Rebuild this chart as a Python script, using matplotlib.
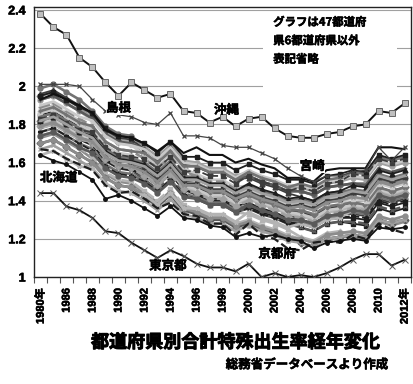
import matplotlib
matplotlib.use("Agg")
import matplotlib.pyplot as plt
import matplotlib.patheffects as pe
from matplotlib.patches import Rectangle

plt.rcParams['font.family'] = ['Noto Sans CJK JP', 'DejaVu Sans']
plt.rcParams['font.weight'] = 'bold'

years = ['1980年', '1985', '1986', '1987', '1988', '1989', '1990', '1991', '1992', '1993',
         '1994', '1995', '1996', '1997', '1998', '1999', '2000', '2001', '2002', '2003',
         '2004', '2005', '2006', '2007', '2008', '2009', '2010', '2011', '2012年']

# labelled prefectures
okinawa = [2.38, 2.31, 2.27, 2.15, 2.10, 2.02, 1.95, 2.02, 1.98, 1.94, 1.96, 1.87, 1.86, 1.81, 1.84,
           1.79, 1.83, 1.84, 1.78, 1.74, 1.73, 1.73, 1.75, 1.76, 1.79, 1.80, 1.87, 1.86, 1.91]
shimane = [2.01, 2.01, 2.01, 2.00, 1.93, 1.87, 1.85, 1.84, 1.81, 1.80, 1.86, 1.74, 1.74, 1.73, 1.69,
           1.68, 1.68, 1.65, 1.62, 1.57, 1.53, 1.50, 1.53, 1.53, 1.55, 1.56, 1.68, 1.61, 1.68]
miyazaki = [1.93, 1.96, 1.93, 1.90, 1.86, 1.77, 1.74, 1.73, 1.70, 1.66, 1.71, 1.65, 1.68, 1.64, 1.64,
            1.60, 1.62, 1.59, 1.57, 1.52, 1.52, 1.50, 1.56, 1.57, 1.57, 1.57, 1.68, 1.68, 1.67]
hokkaido = [1.64, 1.61, 1.59, 1.55, 1.51, 1.41, 1.43, 1.40, 1.36, 1.32, 1.37, 1.31, 1.30, 1.27, 1.26,
            1.21, 1.23, 1.21, 1.22, 1.20, 1.19, 1.15, 1.18, 1.19, 1.20, 1.19, 1.26, 1.25, 1.26]
kyoto = [1.67, 1.66, 1.62, 1.59, 1.56, 1.48, 1.44, 1.45, 1.41, 1.36, 1.39, 1.33, 1.32, 1.28, 1.28,
         1.22, 1.28, 1.22, 1.20, 1.15, 1.14, 1.18, 1.19, 1.18, 1.22, 1.20, 1.28, 1.25, 1.23]
tokyo = [1.44, 1.44, 1.37, 1.35, 1.31, 1.24, 1.23, 1.18, 1.14, 1.10, 1.14, 1.11, 1.07, 1.05, 1.05,
         1.03, 1.07, 1.00, 1.02, 1.00, 1.01, 1.00, 1.02, 1.05, 1.09, 1.12, 1.12, 1.06, 1.09]

# the other prefectures (unlabelled crowd)
aomori = [1.85, 1.87, 1.83, 1.79, 1.73, 1.65, 1.61, 1.60, 1.54, 1.49, 1.55, 1.47, 1.43, 1.40, 1.40,
          1.36, 1.37, 1.34, 1.32, 1.29, 1.26, 1.24, 1.28, 1.29, 1.28, 1.27, 1.36, 1.34, 1.36]
iwate = [1.95, 1.97, 1.93, 1.89, 1.83, 1.75, 1.71, 1.70, 1.64, 1.59, 1.65, 1.57, 1.52, 1.49, 1.49,
         1.45, 1.45, 1.42, 1.40, 1.37, 1.34, 1.32, 1.36, 1.37, 1.36, 1.35, 1.44, 1.42, 1.44]
miyagi = [1.86, 1.88, 1.84, 1.80, 1.73, 1.65, 1.61, 1.60, 1.53, 1.48, 1.54, 1.46, 1.41, 1.38, 1.38,
          1.34, 1.33, 1.30, 1.28, 1.25, 1.21, 1.19, 1.23, 1.24, 1.22, 1.21, 1.30, 1.28, 1.30]
akita = [1.80, 1.82, 1.78, 1.74, 1.69, 1.61, 1.57, 1.56, 1.51, 1.46, 1.52, 1.44, 1.41, 1.38, 1.38,
         1.34, 1.36, 1.33, 1.31, 1.28, 1.26, 1.24, 1.28, 1.29, 1.29, 1.28, 1.37, 1.35, 1.37]
yamagata = [1.93, 1.95, 1.91, 1.87, 1.82, 1.74, 1.70, 1.69, 1.64, 1.59, 1.65, 1.57, 1.54, 1.51, 1.51,
            1.47, 1.48, 1.45, 1.43, 1.40, 1.38, 1.36, 1.40, 1.41, 1.38, 1.37, 1.46, 1.44, 1.46]
fukushima = [1.99, 2.01, 1.97, 1.93, 1.87, 1.79, 1.75, 1.74, 1.68, 1.63, 1.69, 1.61, 1.58, 1.55, 1.55,
             1.51, 1.53, 1.50, 1.48, 1.45, 1.45, 1.43, 1.47, 1.48, 1.49, 1.49, 1.52, 1.48, 1.41]
ibaraki = [1.87, 1.89, 1.85, 1.81, 1.76, 1.68, 1.64, 1.63, 1.57, 1.52, 1.58, 1.50, 1.47, 1.44, 1.44,
           1.40, 1.41, 1.38, 1.36, 1.33, 1.30, 1.28, 1.32, 1.33, 1.33, 1.32, 1.41, 1.39, 1.41]
tochigi = [1.86, 1.88, 1.84, 1.80, 1.75, 1.67, 1.63, 1.62, 1.57, 1.52, 1.58, 1.50, 1.48, 1.45, 1.45,
           1.41, 1.42, 1.39, 1.37, 1.34, 1.32, 1.30, 1.34, 1.35, 1.35, 1.34, 1.43, 1.41, 1.43]
gunma = [1.81, 1.83, 1.79, 1.75, 1.70, 1.62, 1.58, 1.57, 1.53, 1.48, 1.54, 1.46, 1.43, 1.40, 1.40,
         1.36, 1.37, 1.34, 1.32, 1.29, 1.28, 1.26, 1.30, 1.31, 1.31, 1.30, 1.39, 1.37, 1.39]
saitama = [1.73, 1.75, 1.71, 1.67, 1.62, 1.54, 1.50, 1.49, 1.44, 1.39, 1.45, 1.37, 1.34, 1.31, 1.31,
           1.27, 1.28, 1.25, 1.23, 1.20, 1.18, 1.16, 1.20, 1.21, 1.21, 1.20, 1.29, 1.27, 1.29]
chiba = [1.74, 1.76, 1.72, 1.68, 1.63, 1.55, 1.51, 1.50, 1.45, 1.40, 1.46, 1.38, 1.35, 1.32, 1.32,
         1.28, 1.30, 1.27, 1.25, 1.22, 1.20, 1.18, 1.22, 1.23, 1.23, 1.22, 1.31, 1.29, 1.31]
kanagawa = [1.70, 1.72, 1.68, 1.64, 1.60, 1.52, 1.48, 1.47, 1.42, 1.37, 1.43, 1.35, 1.33, 1.30, 1.30,
            1.26, 1.28, 1.25, 1.23, 1.20, 1.18, 1.16, 1.20, 1.21, 1.22, 1.21, 1.30, 1.28, 1.30]
niigata = [1.88, 1.90, 1.86, 1.82, 1.77, 1.69, 1.65, 1.64, 1.59, 1.54, 1.60, 1.52, 1.49, 1.46, 1.46,
           1.42, 1.42, 1.39, 1.37, 1.34, 1.32, 1.30, 1.34, 1.35, 1.35, 1.34, 1.43, 1.41, 1.43]
toyama = [1.76, 1.78, 1.74, 1.70, 1.67, 1.59, 1.55, 1.54, 1.50, 1.45, 1.51, 1.43, 1.42, 1.39, 1.39,
          1.35, 1.38, 1.35, 1.33, 1.30, 1.29, 1.27, 1.31, 1.32, 1.34, 1.33, 1.42, 1.40, 1.42]
ishikawa = [1.81, 1.83, 1.79, 1.75, 1.72, 1.64, 1.60, 1.59, 1.55, 1.50, 1.56, 1.48, 1.47, 1.44, 1.44,
            1.40, 1.43, 1.40, 1.38, 1.35, 1.34, 1.32, 1.36, 1.37, 1.39, 1.38, 1.47, 1.45, 1.47]
fukui = [1.93, 1.95, 1.91, 1.87, 1.84, 1.76, 1.72, 1.71, 1.68, 1.63, 1.69, 1.61, 1.60, 1.57, 1.57,
         1.53, 1.55, 1.52, 1.50, 1.47, 1.47, 1.45, 1.49, 1.50, 1.52, 1.51, 1.60, 1.58, 1.60]
yamanashi = [1.78, 1.80, 1.76, 1.72, 1.69, 1.61, 1.57, 1.56, 1.53, 1.48, 1.54, 1.46, 1.44, 1.41, 1.41,
             1.37, 1.39, 1.36, 1.34, 1.31, 1.30, 1.28, 1.32, 1.33, 1.35, 1.34, 1.43, 1.41, 1.43]
nagano = [1.89, 1.91, 1.87, 1.83, 1.79, 1.71, 1.67, 1.66, 1.62, 1.57, 1.63, 1.55, 1.53, 1.50, 1.50,
          1.46, 1.48, 1.45, 1.43, 1.40, 1.39, 1.37, 1.41, 1.42, 1.43, 1.42, 1.51, 1.49, 1.51]
gifu = [1.80, 1.82, 1.78, 1.74, 1.71, 1.63, 1.59, 1.58, 1.54, 1.49, 1.55, 1.47, 1.45, 1.42, 1.42,
        1.38, 1.41, 1.38, 1.36, 1.33, 1.32, 1.30, 1.34, 1.35, 1.37, 1.36, 1.45, 1.43, 1.45]
shizuoka = [1.82, 1.84, 1.80, 1.76, 1.73, 1.65, 1.61, 1.60, 1.57, 1.52, 1.58, 1.50, 1.49, 1.46, 1.46,
            1.42, 1.46, 1.43, 1.41, 1.38, 1.38, 1.36, 1.40, 1.41, 1.44, 1.43, 1.52, 1.50, 1.52]
aichi = [1.81, 1.83, 1.79, 1.75, 1.72, 1.64, 1.60, 1.59, 1.55, 1.50, 1.56, 1.48, 1.46, 1.43, 1.43,
         1.39, 1.42, 1.39, 1.37, 1.34, 1.33, 1.31, 1.35, 1.36, 1.38, 1.37, 1.46, 1.44, 1.46]
mie = [1.82, 1.84, 1.80, 1.76, 1.73, 1.65, 1.61, 1.60, 1.56, 1.51, 1.57, 1.49, 1.48, 1.45, 1.45,
       1.41, 1.43, 1.40, 1.38, 1.35, 1.35, 1.33, 1.37, 1.38, 1.39, 1.38, 1.47, 1.45, 1.47]
shiga = [1.96, 1.98, 1.94, 1.90, 1.85, 1.77, 1.73, 1.72, 1.67, 1.62, 1.68, 1.60, 1.58, 1.55, 1.55,
         1.51, 1.52, 1.49, 1.47, 1.44, 1.42, 1.40, 1.44, 1.45, 1.45, 1.44, 1.53, 1.51, 1.53]
osaka = [1.67, 1.69, 1.65, 1.61, 1.57, 1.49, 1.45, 1.44, 1.40, 1.35, 1.41, 1.33, 1.31, 1.28, 1.28,
         1.24, 1.27, 1.24, 1.22, 1.19, 1.18, 1.16, 1.20, 1.21, 1.22, 1.21, 1.30, 1.28, 1.30]
hyogo = [1.76, 1.78, 1.74, 1.70, 1.66, 1.58, 1.54, 1.53, 1.50, 1.45, 1.51, 1.43, 1.41, 1.38, 1.38,
         1.34, 1.36, 1.33, 1.31, 1.28, 1.28, 1.26, 1.30, 1.31, 1.32, 1.31, 1.40, 1.38, 1.40]
nara = [1.70, 1.72, 1.68, 1.64, 1.60, 1.52, 1.48, 1.47, 1.43, 1.38, 1.44, 1.36, 1.34, 1.31, 1.31,
        1.27, 1.29, 1.26, 1.24, 1.21, 1.20, 1.18, 1.22, 1.23, 1.24, 1.23, 1.32, 1.30, 1.32]
wakayama = [1.78, 1.80, 1.76, 1.72, 1.71, 1.63, 1.59, 1.58, 1.56, 1.51, 1.57, 1.49, 1.49, 1.46, 1.46,
            1.42, 1.46, 1.43, 1.41, 1.38, 1.39, 1.37, 1.41, 1.42, 1.45, 1.44, 1.53, 1.51, 1.53]
tottori = [1.93, 1.95, 1.91, 1.87, 1.83, 1.75, 1.71, 1.70, 1.67, 1.62, 1.68, 1.60, 1.58, 1.55, 1.55,
           1.51, 1.53, 1.50, 1.48, 1.45, 1.45, 1.43, 1.47, 1.48, 1.49, 1.48, 1.57, 1.55, 1.57]
okayama = [1.86, 1.88, 1.84, 1.80, 1.76, 1.68, 1.64, 1.63, 1.59, 1.54, 1.60, 1.52, 1.51, 1.48, 1.48,
           1.44, 1.46, 1.43, 1.41, 1.38, 1.37, 1.35, 1.39, 1.40, 1.41, 1.40, 1.49, 1.47, 1.49]
hiroshima = [1.84, 1.86, 1.82, 1.78, 1.75, 1.67, 1.63, 1.62, 1.60, 1.55, 1.61, 1.53, 1.52, 1.49, 1.49,
             1.45, 1.48, 1.45, 1.43, 1.40, 1.41, 1.39, 1.43, 1.44, 1.46, 1.45, 1.54, 1.52, 1.54]
yamaguchi = [1.79, 1.81, 1.77, 1.73, 1.71, 1.63, 1.59, 1.58, 1.56, 1.51, 1.57, 1.49, 1.49, 1.46, 1.46,
             1.42, 1.45, 1.42, 1.40, 1.37, 1.38, 1.36, 1.40, 1.41, 1.44, 1.43, 1.52, 1.50, 1.52]
tokushima = [1.79, 1.81, 1.77, 1.73, 1.70, 1.62, 1.58, 1.57, 1.53, 1.48, 1.54, 1.46, 1.44, 1.41, 1.41,
             1.37, 1.40, 1.37, 1.35, 1.32, 1.31, 1.29, 1.33, 1.34, 1.36, 1.35, 1.44, 1.42, 1.44]
kagawa = [1.82, 1.84, 1.80, 1.76, 1.74, 1.66, 1.62, 1.61, 1.59, 1.54, 1.60, 1.52, 1.52, 1.49, 1.49,
          1.45, 1.49, 1.46, 1.44, 1.41, 1.42, 1.40, 1.44, 1.45, 1.48, 1.47, 1.56, 1.54, 1.56]
ehime = [1.79, 1.81, 1.77, 1.73, 1.71, 1.63, 1.59, 1.58, 1.55, 1.50, 1.56, 1.48, 1.48, 1.45, 1.45,
         1.41, 1.44, 1.41, 1.39, 1.36, 1.37, 1.35, 1.39, 1.40, 1.42, 1.41, 1.50, 1.48, 1.50]
kochi = [1.64, 1.66, 1.62, 1.58, 1.57, 1.49, 1.45, 1.44, 1.43, 1.38, 1.44, 1.36, 1.36, 1.33, 1.33,
         1.29, 1.34, 1.31, 1.29, 1.26, 1.28, 1.26, 1.30, 1.31, 1.35, 1.34, 1.43, 1.41, 1.43]
fukuoka = [1.74, 1.76, 1.72, 1.68, 1.65, 1.57, 1.53, 1.52, 1.49, 1.44, 1.50, 1.42, 1.41, 1.38, 1.38,
           1.34, 1.38, 1.35, 1.33, 1.30, 1.30, 1.28, 1.32, 1.33, 1.35, 1.34, 1.43, 1.41, 1.43]
saga = [1.90, 1.92, 1.88, 1.84, 1.82, 1.74, 1.70, 1.69, 1.67, 1.62, 1.68, 1.60, 1.59, 1.56, 1.56,
        1.52, 1.56, 1.53, 1.51, 1.48, 1.48, 1.46, 1.50, 1.51, 1.53, 1.52, 1.61, 1.59, 1.61]
nagasaki = [1.87, 1.89, 1.85, 1.81, 1.79, 1.71, 1.67, 1.66, 1.65, 1.60, 1.66, 1.58, 1.58, 1.55, 1.55,
            1.51, 1.55, 1.52, 1.50, 1.47, 1.49, 1.47, 1.51, 1.52, 1.55, 1.54, 1.63, 1.61, 1.63]
kumamoto = [1.83, 1.85, 1.81, 1.77, 1.76, 1.68, 1.64, 1.63, 1.62, 1.57, 1.63, 1.55, 1.56, 1.53, 1.53,
            1.49, 1.53, 1.50, 1.48, 1.45, 1.47, 1.45, 1.49, 1.50, 1.54, 1.53, 1.62, 1.60, 1.62]
oita = [1.82, 1.84, 1.80, 1.76, 1.73, 1.65, 1.61, 1.60, 1.58, 1.53, 1.59, 1.51, 1.51, 1.48, 1.48,
        1.44, 1.47, 1.44, 1.42, 1.39, 1.40, 1.38, 1.42, 1.43, 1.45, 1.44, 1.53, 1.51, 1.53]
kagoshima = [1.95, 1.97, 1.93, 1.89, 1.86, 1.78, 1.74, 1.73, 1.70, 1.65, 1.71, 1.63, 1.63, 1.60, 1.60,
             1.56, 1.59, 1.56, 1.54, 1.51, 1.51, 1.49, 1.53, 1.54, 1.56, 1.55, 1.64, 1.62, 1.64]

crowd = [aomori, iwate, miyagi, akita, yamagata, fukushima, ibaraki, tochigi, gunma, saitama,
         chiba, kanagawa, niigata, toyama, ishikawa, fukui, yamanashi, nagano, gifu, shizuoka,
         aichi, mie, shiga, osaka, hyogo, nara, wakayama, tottori, okayama, hiroshima,
         yamaguchi, tokushima, kagawa, ehime, kochi, fukuoka, saga, nagasaki, kumamoto, oita,
         kagoshima]

x = list(range(len(years)))

fig = plt.figure(figsize=(4.13, 3.84), dpi=100)
ax = fig.add_axes([0.0823, 0.2786, 0.9129, 0.7019])

colors = ['#1e1e1e', '#8c8c8c', '#b4b4b4', '#595959', '#c8c8c8', '#737373', '#3c3c3c', '#a0a0a0']
markers = ['s', 'D', '^', 'x', '*', 'o', '', '+', 's', '_']
styles = ['-', '-', '-', '--', '-', '-', '-']
for i, s in enumerate(crowd):
    c = colors[i % len(colors)]
    lw = 1.3 if c in ('#1e1e1e', '#3c3c3c') else 1.9
    ax.plot(x, s, color=c, lw=lw, ls=styles[i % len(styles)],
            marker=markers[i % len(markers)], ms=3.5, mec=c, mfc=c, zorder=2)

ax.plot(x, kyoto, color='#1e1e1e', lw=1.6, ls='--', zorder=3)
ax.plot(x, hokkaido, color='#111111', lw=1.3, marker='o', ms=2.5, zorder=3)
ax.plot(x, miyazaki, color='#111111', lw=1.5, zorder=3)
ax.plot(x, shimane, color='#444444', lw=0.9, marker='x', ms=3.5, mew=0.9, zorder=3)
ax.plot(x, tokyo, color='#111111', lw=1.3, marker='x', ms=4, mew=0.7, mec='#555555', zorder=3)
ax.plot(x, okinawa, color='#111111', lw=1.4, marker='s', ms=4.8, mfc='#c0c0c0', mec='#666666',
        mew=0.7, zorder=4)

# heavier strokes to mimic the chunky bold font of the original
thick = [pe.withStroke(linewidth=0.7, foreground='black')]
thin = [pe.withStroke(linewidth=0.4, foreground='black')]

ax.set_xlim(-0.5, 28.5)
ax.set_ylim(1.0, 2.413)
ax.set_yticks([1.0, 1.2, 1.4, 1.6, 1.8, 2.0, 2.2, 2.4])
ax.set_yticklabels(['1', '1.2', '1.4', '1.6', '1.8', '2', '2.2', '2.4'],
                   fontsize=9, family=['Liberation Sans', 'Noto Sans CJK JP'])
ax.yaxis.grid(True, color='#a0a0a0', lw=0.8, zorder=0)
ax.set_axisbelow(True)
ax.tick_params(axis='y', length=0, pad=6)

ax.set_xticks(x[::2])
ax.set_xticklabels(years[::2], rotation=90, fontsize=8, family=['Liberation Sans', 'Noto Sans CJK JP'])
ax.set_xticks([i - 0.5 for i in range(len(years) + 1)], minor=True)
ax.tick_params(axis='x', which='major', length=0, pad=8)
ax.tick_params(axis='x', which='minor', length=4, width=0.8, color='#555555')
for t in ax.get_xticklabels() + ax.get_yticklabels():
    t.set_path_effects(thin)
for sp in ax.spines.values():
    sp.set_color('#222222')
    sp.set_linewidth(1.0)

# white panel behind the note
ax.add_patch(Rectangle((17.15, 1.95), 10.3, 0.44, fc='white', ec='none', zorder=1))
ax.text(17.9, 2.37, 'グラフは47都道府\n県6都道府県以外\n表記省略', fontsize=8.2, va='top', ha='left',
        linespacing=1.55, zorder=6, path_effects=thin)

lab = dict(fontsize=9, ha='center', va='center', zorder=7, path_effects=thin)
ax.text(14.3, 1.875, '沖縄', **lab)
ax.text(6.0, 1.885, '島根', bbox=dict(fc='white', ec='none', pad=0.3), **lab)
ax.text(20.9, 1.58, '宮崎', bbox=dict(fc='white', ec='none', pad=0.3), **lab)
ax.text(1.4, 1.52, '北海道', bbox=dict(fc='white', ec='none', pad=0.3), **lab)
ax.text(18.2, 1.12, '京都府', **lab)
ax.text(9.8, 1.058, '東京都', **lab)

fig.text(0.569, 0.109, '都道府県別合計特殊出生率経年変化', fontsize=13, ha='center', va='center',
         path_effects=thick)
fig.text(0.94, 0.05, '総務省データベースより作成', fontsize=9, ha='right', va='center',
         path_effects=thin)

fig.savefig('out.png', dpi=100)
